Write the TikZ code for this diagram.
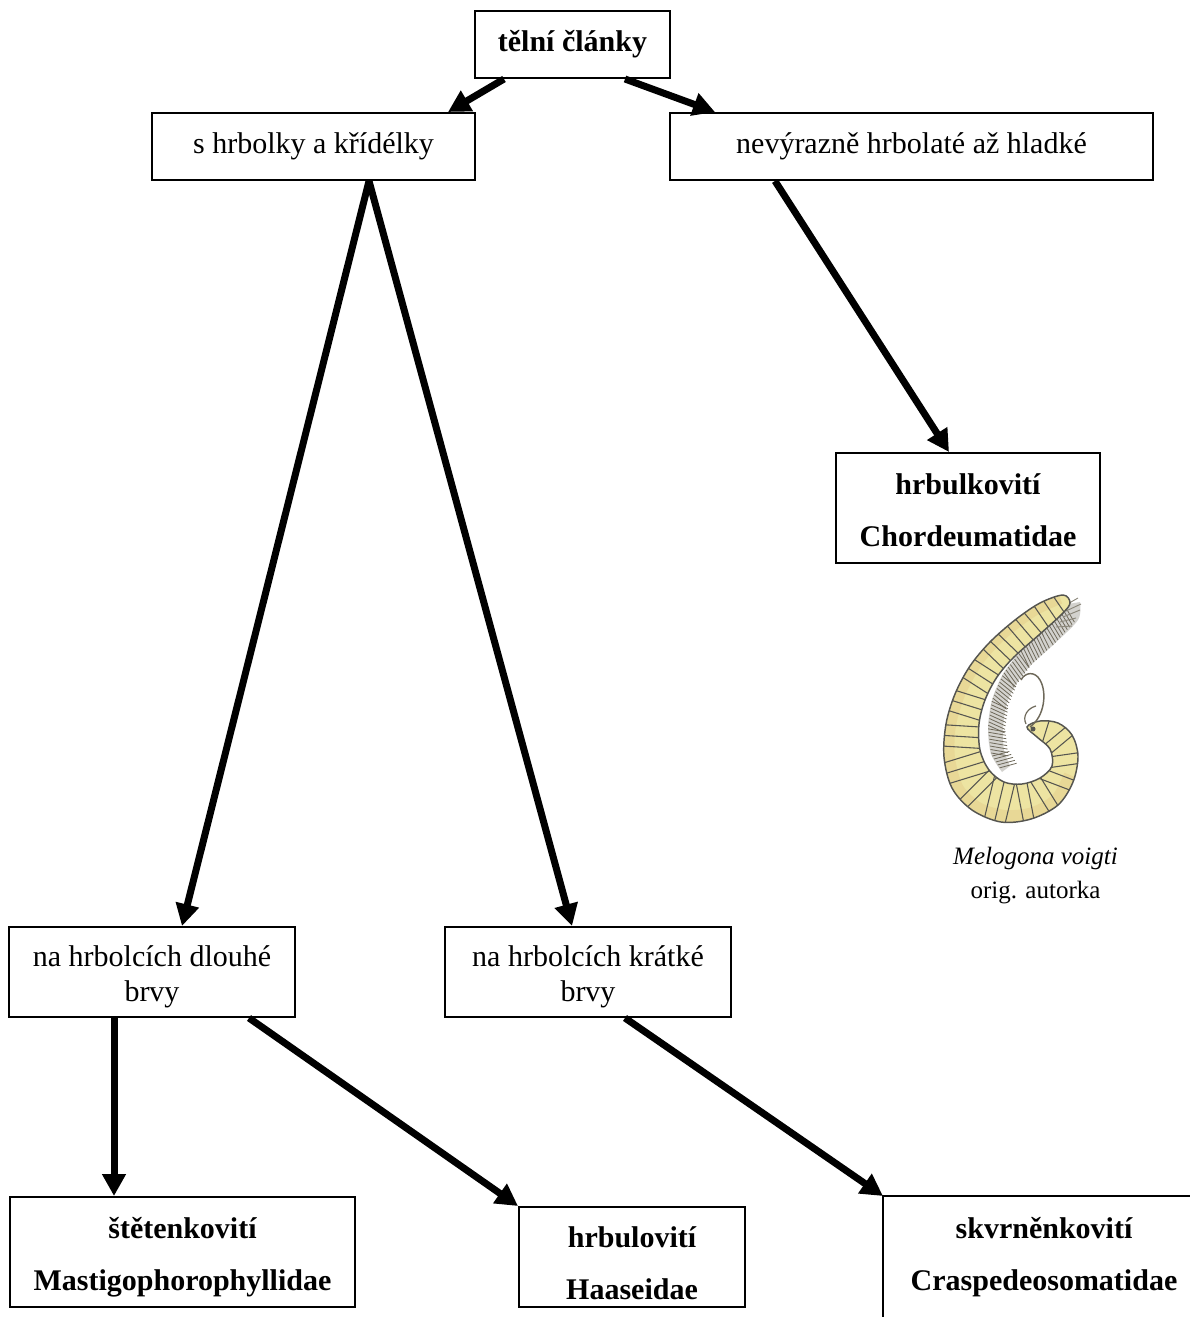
\documentclass[tikz,border=0pt]{standalone}
\usepackage{fontspec}
\setmainfont{Liberation Serif}
\usetikzlibrary{arrows.meta,calc,decorations.markings}

\definecolor{bodyfill}{RGB}{237,228,162}
\definecolor{bodyline}{RGB}{85,85,80}
\definecolor{legcol}{RGB}{110,105,90}

% invisible strut that lowers a block of lines inside its box
\newcommand\lowerby[1]{\rule{0pt}{#1}}

\begin{document}
\begin{tikzpicture}[x=0.75pt,y=-0.75pt,
  box/.style={draw,line width=1.5pt,rectangle,inner sep=0pt,align=center,
    font=\fontsize{22.5pt}{26.25pt}\selectfont},
  taxon/.style={box,font=\fontsize{22.5pt}{39pt}\selectfont\bfseries},
  link/.style={line width=5.25pt,-{Triangle[length=16.5pt,width=17pt]}},
  capt/.style={inner sep=0pt,font=\fontsize{18.75pt}{22pt}\selectfont},
]
\useasboundingbox (0,0) rectangle (1189,1317);

% --- key boxes ---
\node[box,minimum width=146.25pt,minimum height=50.25pt] (b1) at (572.5,44.5) {\bfseries tělní články};
\node[box,minimum width=242.25pt,minimum height=50.25pt] (b2) at (313.5,146.5) {s hrbolky a křídélky};
\node[box,minimum width=362.25pt,minimum height=50.25pt] (b3) at (911.5,146.5) {nevýrazně hrbolaté až hladké};
\node[taxon,minimum width=198pt,minimum height=82.5pt] (b4) at (968,508) {\lowerby{18.5pt}hrbulkovití\\Chordeumatidae};
\node[box,minimum width=214.5pt,minimum height=67.5pt] (b5) at (152,972) {\lowerby{23pt}na hrbolcích dlouhé\\brvy};
\node[box,minimum width=214.5pt,minimum height=67.5pt] (b6) at (588,972) {\lowerby{23pt}na hrbolcích krátké\\brvy};
\node[taxon,minimum width=258.75pt,minimum height=82.5pt] (b7) at (182.5,1252) {\lowerby{23pt}štětenkovití\\Mastigophorophyllidae};
\node[taxon,minimum width=169.5pt,minimum height=75pt] (b8) at (632,1257) {\lowerby{24.5pt}hrbulovití\\Haaseidae};
\node[taxon,draw=none,minimum width=240pt,minimum height=82.5pt] (b9) at (1044,1252) {\lowerby{23pt}skvrněnkovití\\Craspedeosomatidae};
\draw[line width=1.5pt] ($(b9.south west)+(0,15)$) -- (b9.north west) -- (b9.north east);

% --- connectors ---
\draw[link] ($(b1.south west)+(30,0)$) -- ($(b2.north east)+(-28,0)$);
\draw[link] ($(b1.south west)+(151,0)$) -- ($(b3.north west)+(46,0)$);
\draw[link] ($(b2.south west)+(218,0)$) -- ($(b5.north west)+(174,0)$);
\draw[link] ($(b2.south west)+(218,0)$) -- ($(b6.north west)+(128,0)$);
\draw[link] ($(b3.south west)+(106,0)$) -- ($(b4.north west)+(114,0)$);
\draw[link] ($(b5.south west)+(106,0)$) -- ($(b7.north west)+(105,0)$);
\draw[link] ($(b5.south west)+(241,0)$) -- (b8.north west);
\draw[link] ($(b6.south west)+(181,0)$) -- (b9.north west);

% --- millipede sketch ---
\def\bodypath{plot[smooth cycle,tension=0.55] coordinates {
  (1063,595) (1040,603) (1015,620) (990,642) (970,666) (955,694) (946,724)
  (944,757) (952,788) (972,810) (1001,822) (1031,819) (1058,805) (1073,782)
  (1078,756) (1072,735) (1058,723) (1040,721) (1027,727)
  (1037,737) (1050,749) (1052,766) (1040,778) (1022,784) (1004,782) (989,770)
  (980,750) (979,724) (985,700) (997,677) (1014,657) (1040,634) (1062,614) (1070,603)}}
% legs along the inner side
\fill[legcol!30] plot[smooth] coordinates {(1068,604) (1044,630) (1020,652) (1003,674) (992,700) (988,728) (991,754) (1002,772)}
  -- plot[smooth] coordinates {(1010,766) (1004,750) (1003,730) (1006,706) (1015,686) (1030,666) (1052,646) (1078,620) (1080,602)} -- cycle;
\path[postaction={decorate},
  decoration={markings,mark=between positions 0.02 and 0.98 step 2.6pt with
    {\draw[legcol,line width=0.6pt] (0,0) -- (5,-17);}}]
  (1068,604) -- (1044,630) -- (1020,652) -- (1003,674) -- (992,700) -- (988,728) -- (991,754) -- (1002,772);
\draw[legcol!80,line width=0.7pt] (1064,606) -- (1078,598) (1066,611) -- (1081,604) (1063,617) -- (1080,610)
  (1060,622) -- (1076,618) (1056,627) -- (1072,626);
% body
\fill[bodyfill] \bodypath;
\begin{scope}
  \clip \bodypath;
  \draw[bodyfill!75!brown,line width=9pt,opacity=0.45]
    plot[smooth] coordinates {(1060,598) (1034,610) (1003,633) (978,660) (960,692) (950,725) (949,758) (958,789) (978,808) (1005,816) (1033,813) (1057,799) (1070,775)};
  \path[postaction={decorate},
    decoration={markings,mark=between positions 0.01 and 0.99 step 8pt with
      {\draw[bodyline,line width=0.8pt] (0,-40) -- (0,40);}}]
    (1062,602) -- (1040,617) -- (1013,640) -- (990,664) -- (972,692)
      -- (962,724) -- (960,756) -- (968,782) -- (985,799) -- (1010,805) -- (1036,800) -- (1057,787)
      -- (1065,766) -- (1062,745) -- (1052,733) -- (1036,728);
\end{scope}
\draw[bodyline,line width=1.1pt] \bodypath;
% antenna and head
\draw[legcol,line width=1.1pt] (1030,727) .. controls (1045,716) and (1047,692) .. (1040,680)
  .. controls (1035,671) and (1025,672) .. (1021,680);
\draw[legcol,line width=0.9pt] (1026,724) .. controls (1022,716) and (1028,708) .. (1036,706);
\fill[bodyline] (1033,729) circle (2.5);

% --- caption ---
\node[capt,font=\fontsize{18.75pt}{22pt}\selectfont\itshape] (cap1) at (1035.5,858) {Melogona voigti};
\node[capt] (cap2) at (1035.5,893) {orig. autorka};
\end{tikzpicture}
\end{document}
